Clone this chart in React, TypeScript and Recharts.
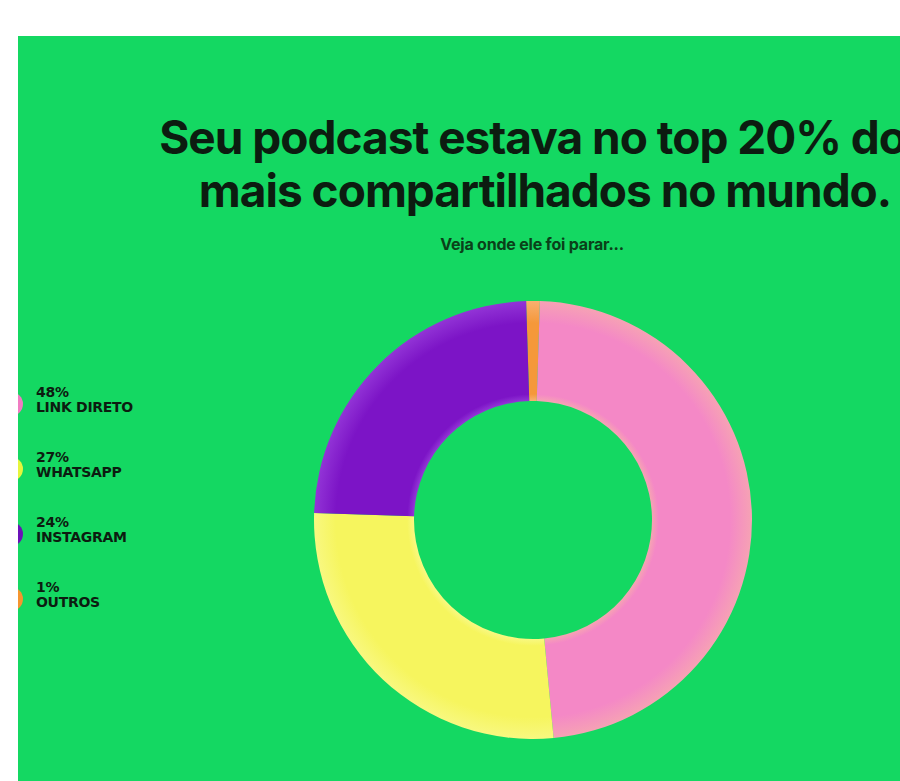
import React from "react";
import { PieChart, Pie, Cell, Legend } from "recharts";

const names = ["OUTROS", "LINK DIRETO", "WHATSAPP", "INSTAGRAM"];
const shares = [1, 48, 27, 24];
const colors = ["#f5983a", "#f488c6", "#f6f55e", "#7c14c6"];
const edgeColors = ["#f8b070", "#f6a2b4", "#f8f880", "#9234d6"];
const legendOrder = ["LINK DIRETO", "WHATSAPP", "INSTAGRAM", "OUTROS"];
const legendDots = ["#f07cc2", "#e6f53c", "#6a12b8", "#f5952f"];

const data = names.map((name, i) => ({ name, value: shares[i] }));

const GREEN = "#14d862";
const INK = "#0c1c10";
const CX = 515;
const CY = 484;

function ShareLegend() {
  return (
    <div style={{ position: "relative", width: 140, height: 260 }}>
      {legendOrder.map((name, i) => {
        const v = shares[names.indexOf(name)];
        return (
          <div key={name} style={{ position: "absolute", left: 0, top: i * 65, height: 40 }}>
            <div
              style={{
                position: "absolute",
                left: -19,
                top: 7,
                width: 24,
                height: 24,
                borderRadius: 12,
                background: legendDots[i],
              }}
            />
            <div
              style={{
                position: "absolute",
                left: 18,
                top: 0,
                fontFamily: "'DejaVu Sans', sans-serif",
                fontWeight: 700,
                fontSize: 14,
                lineHeight: "15px",
                letterSpacing: -0.3,
                color: INK,
                whiteSpace: "nowrap",
              }}
            >
              {v}%
              <br />
              {name}
            </div>
          </div>
        );
      })}
    </div>
  );
}

export default function App() {
  return (
    <div style={{ position: "fixed", left: 0, top: 0, width: 900, height: 781, background: "#fff" }}>
      <div
        style={{
          position: "absolute",
          left: 18,
          top: 36,
          width: 882,
          height: 745,
          background: GREEN,
          overflow: "hidden",
        }}
      >
        <svg width={882} height={745} style={{ position: "absolute", left: 0, top: 0 }}>
          <text
            x={527}
            y={118}
            textAnchor="middle"
            fontFamily="Inter, sans-serif"
            fontWeight={700}
            fontSize={46}
            letterSpacing={-1}
            fill={INK}
          >
            Seu podcast estava no top 20% dos
          </text>
          <text
            x={527}
            y={171}
            textAnchor="middle"
            fontFamily="Inter, sans-serif"
            fontWeight={700}
            fontSize={46}
            letterSpacing={-1}
            fill={INK}
          >
            mais compartilhados no mundo.
          </text>
          <text
            x={514}
            y={214}
            textAnchor="middle"
            fontFamily="Inter, sans-serif"
            fontWeight={700}
            fontSize={16}
            letterSpacing={-0.2}
            fill="#0a4019"
          >
            Veja onde ele foi parar...
          </text>
        </svg>
        <PieChart
          width={882}
          height={745}
          margin={{ top: 0, right: 0, bottom: 0, left: 0 }}
          style={{ position: "absolute", left: 0, top: 0 }}
        >
          <defs>
            {colors.map((c, i) => (
              <radialGradient
                key={i}
                id={`slice${i}`}
                gradientUnits="userSpaceOnUse"
                cx={CX}
                cy={CY}
                r={219}
              >
                <stop offset="0.545" stopColor={edgeColors[i]} />
                <stop offset="0.575" stopColor={c} />
                <stop offset="0.9" stopColor={c} />
                <stop offset="1" stopColor={edgeColors[i]} />
              </radialGradient>
            ))}
          </defs>
          <Pie
            data={data}
            dataKey="value"
            nameKey="name"
            cx={CX}
            cy={CY}
            innerRadius={119}
            outerRadius={219}
            startAngle={91.8}
            endAngle={-268.2}
            stroke="none"
            isAnimationActive={false}
          >
            {data.map((d, i) => (
              <Cell key={d.name} fill={`url(#slice${i})`} />
            ))}
          </Pie>
          <Legend
            layout="horizontal"
            align="center"
            verticalAlign="middle"
            content={() => <ShareLegend />}
            wrapperStyle={{ position: "absolute", left: 0, top: 349, width: 140 }}
          />
        </PieChart>
      </div>
    </div>
  );
}
